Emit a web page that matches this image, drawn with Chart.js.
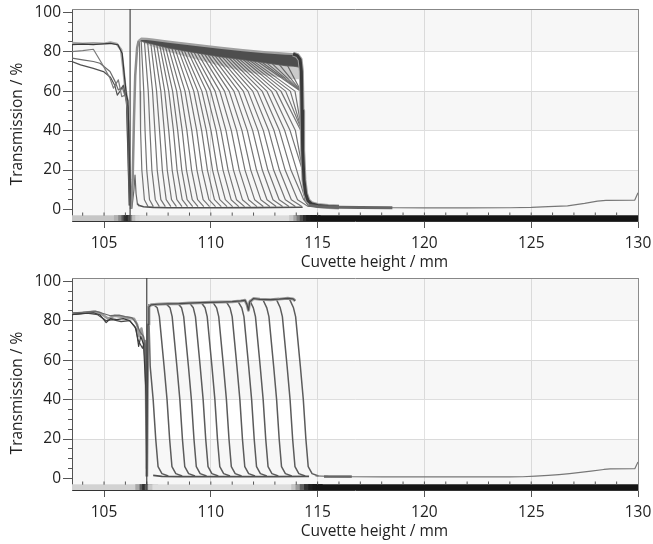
<!DOCTYPE html>
<html><head><meta charset="utf-8">
<script src="https://cdn.jsdelivr.net/npm/chart.js@4.4.1/dist/chart.umd.min.js"></script>
<style>
html,body{margin:0;padding:0;background:#fff;width:653px;height:544px;overflow:hidden}
canvas{position:absolute;left:0}
#c1{top:0}
#c2{top:269px}
</style></head><body>
<canvas id="c1" width="653" height="272"></canvas>
<canvas id="c2" width="653" height="272"></canvas>
<script>
// ---------- axes ----------
const xMin = 103.5, xMax = 130, yMin = -5.8, yMax = 101.6;
const xTickValues = [105, 110, 115, 120, 125, 130];
const xMinorTicks = [104,105,106,107,108,109,110,111,112,113,114,115,116,117,118,119,120,121,122,123,124,125,126,127,128,129];
const yTickValues = [0,5,10,15,20,25,30,35,40,45,50,55,60,65,70,75,80,85,90,95,100];
const bandRanges = [[80, 101.6], [40, 60], [-2.8, 20]];
const xTitle = 'Cuvette height / mm';
const yTitle = 'Transmission / %';

// ---------- top panel ----------
const topMeniscusX = 106.22;
const topLeft1 = [[103.5,84.3],[104,84],[104.5,84.2],[105,84],[105.3,84.6],[105.6,83.9],[105.8,81],[105.9,72],[106.0,61],[106.08,56],[106.15,30],[106.22,2]];
const topLeft2 = [[103.5,83.6],[104,83.8],[104.5,83.6],[105,84],[105.3,84.2],[105.65,83.5],[105.85,79],[105.95,68],[106.05,58],[106.12,55],[106.2,20],[106.25,1]];
const topLeft3 = [[103.5,80],[104,80.5],[104.5,81.2],[104.9,74],[105.28,66.5],[105.44,61.5],[105.67,65.7],[105.83,57.2],[106.0,58],[106.15,45],[106.22,3]];
const topLeft4 = [[103.5,76.7],[104,75.8],[104.5,75],[104.81,74.1],[105.28,69.9],[105.52,64.8],[105.67,60.6],[105.85,62],[106.0,57],[106.12,52],[106.2,5]];
const topLeft5 = [[103.5,75],[103.9,73.3],[104.5,71.5],[104.97,69.9],[105.3,67],[105.5,63],[105.62,58],[105.75,60],[105.9,63],[106.05,55],[106.18,2]];
const topRise = [[106.26,0.3],[106.34,15],[106.4,45],[106.46,68],[106.55,82],[106.62,85.5]];
const topSpike = [[106.3,0.5],[106.4,10],[106.45,17.5],[106.5,8],[106.56,3],[106.65,1.8]];
const bandX     = [106.62,106.75,107.0,107.3,108,109,110.4,111.5,112.5,113.5,113.85,114.05,114.2];
const bandTopY  = [85.5,86.6,86.5,86.1,85.1,83.8,82.0,80.8,79.8,79.0,78.8,78.0,76.0];
const bandLowY  = [85.5,85.5,84.6,83.8,82.0,80.0,77.5,76.0,74.5,73.0,72.7,72.5,72.0];
const speckLowY = [85.5,85.0,83.6,82.5,80.0,77.0,73.0,70.0,68.0,66.5,66.0,66.0,66.0];
const fanLevels = [60, 40, 20, 5, 1.5];
const fanWallX  = [114.22, 114.26, 114.3, 114.42, 114.62];
const fanTopX = [106.66,106.74,106.89,107.04,107.19,107.33,107.47,107.61,107.74,107.88,108.02,108.18,108.33,108.48,108.62,108.76,108.92,109.06,109.22,109.38,109.55,109.71,109.87,110.04,110.20,110.36,110.53,110.69,110.85,111.02,111.18,111.34,111.51,111.67,111.83,112.00,112.19,112.38,112.61,112.87,113.20,113.59];
const fanTopY = [85.0,85.5,85.1,84.6,84.1,83.7,83.4,83.0,82.7,82.3,82.0,81.6,81.3,81.0,80.8,80.5,80.2,79.9,79.6,79.3,79.0,78.7,78.4,78.1,77.9,77.6,77.3,77.1,76.9,76.6,76.4,76.2,76.0,75.7,75.5,75.2,75.0,74.7,74.3,73.9,73.5,73.0];
const fanX60 = [106.69,106.86,107.07,107.27,107.46,107.66,107.84,108.03,108.21,108.40,108.59,108.79,108.99,109.20,109.39,109.58,109.79,109.99,110.20,110.42,110.64,110.86,111.08,111.30,111.52,111.74,111.96,112.18,112.40,112.62,112.84,113.06,113.28,113.50,113.72,113.94,114.19,114.45,114.75,115.1,115.55,116.0];
const fanX40 = [106.71,106.92,107.15,107.38,107.60,107.82,108.03,108.25,108.45,108.66,108.88,109.11,109.34,109.57,109.79,110.01,110.25,110.47,110.71,110.96,111.21,111.46,111.71,111.96,112.21,112.46,112.71,112.96,113.21,113.46,113.71,113.96,114.21,114.46,114.71,114.96,115.25,115.55,115.9,116.3,116.8,117.4];
const fanX20 = [106.77,107.00,107.24,107.49,107.73,107.96,108.19,108.42,108.64,108.86,109.10,109.35,109.59,109.84,110.08,110.31,110.57,110.81,111.06,111.33,111.60,111.87,112.14,112.41,112.67,112.94,113.21,113.48,113.75,114.02,114.29,114.57,114.8,115.1,115.4,115.6,116,116.3,116.6,117,117.5,118.2];
const fanX5  = [106.89,107.13,107.40,107.66,107.91,108.16,108.41,108.66,108.89,109.13,109.38,109.64,109.91,110.17,110.42,110.68,110.95,111.20,111.48,111.77,112.05,112.34,112.63,112.91,113.20,113.49,113.77,114.06,114.35,114.67,114.94,115.2,115.5,115.8,116.1,116.4,116.7,117,117.4,117.8,118.3,119];
const fanX1  = [107.06,107.31,107.59,107.87,108.13,108.39,108.65,108.91,109.15,109.40,109.67,109.94,110.22,110.49,110.76,111.02,111.31,111.58,111.86,112.16,112.46,112.76,113.06,113.36,113.66,113.96,114.26,114.56,114.85,115.2,115.46,115.8,116.1,116.4,116.7,117,117.3,117.7,118.1,118.5,119,119.7];
const topFloor = [[106.55,3],[106.65,2],[106.85,1.4],[107.3,1.1],[108,0.9],[110,0.9],[112,1.0],[114.3,1.2]];
const topWall = [[113.85,78.8],[114.05,78.0],[114.18,76],[114.24,70],[114.27,50],[114.3,30],[114.36,15],[114.44,8],[114.55,4.5],[114.7,3],[115,2.1],[115.5,1.5],[116,1.3]];
const topSmear = [[114.6,2.2],[115,1.6],[116,1.2],[117,1.0],[118.5,0.9]];
const topTail = [[116,1.2],[117,1.0],[118.5,0.9],[120,0.8],[122,0.8],[124,0.9],[125,1.1],[125.8,1.5],[126.7,1.9],[127.5,3.1],[128.1,4.3],[128.5,4.6],[129.85,4.8],[130,8.5]];
const topStripX     = [103.5,105.6,105.8,105.95,106.05,106.15,106.25,106.35,106.45,106.6,106.8,113.8,114.0,114.15,114.3,114.45,114.6,114.8,115.0,130];
const topStripShade = ['#c6c6c6','#b0b0b0','#8a8a8a','#5a5a5a','#333333','#2a2a2a','#4a4a4a','#8a8a8a','#c0c0c0','#d6d6d6','#dcdcdc','#c8c8c8','#a4a4a4','#7a7a7a','#4c4c4c','#2c2c2c','#1c1c1c','#151515','#141414'];

// ---------- bottom panel ----------
const botMeniscusX = 107.0;
const botLeft1 = [[103.5,83.5],[104,84],[104.5,84.5],[104.8,84],[105.0,82.5],[105.2,81],[105.5,82.5],[105.8,82],[106.1,81.5],[106.4,81],[106.55,78],[106.65,72],[106.75,76],[106.85,70],[106.95,60],[107.0,5]];
const botLeft2 = [[103.5,83],[104,83.5],[104.5,84],[104.8,83],[105.1,79],[105.3,81],[105.6,80.5],[105.9,81],[106.2,80],[106.5,76],[106.62,67],[106.72,72],[106.85,68],[106.97,42],[107.0,2]];
const botLeft3 = [[103.5,84],[104,84.2],[104.6,84.8],[105,83.5],[105.3,82.5],[105.7,82.8],[106,82],[106.3,81.5],[106.5,79],[106.7,74],[106.85,72],[106.95,66],[107.0,10]];
const botLeft4 = [[103.5,83.2],[104.2,83.8],[104.7,83],[105.1,80],[105.4,80.5],[105.8,79.5],[106.2,80],[106.45,77],[106.6,70],[106.8,66],[106.92,70],[107.0,3]];
const botPlateau = [[107.0,1],[107.03,45],[107.06,78],[107.1,87],[107.2,88],[107.5,88.3],[108,88.5],[108.5,88.6],[109,88.9],[109.5,89.1],[110,89.3],[110.5,89.4],[111,89.6],[111.4,90],[111.6,90.3],[111.7,88],[111.76,85.3],[111.82,89.5],[112,91.2],[112.3,90.8],[112.8,90.6],[113.2,90.9],[113.6,91.3],[113.85,91],[113.95,90]];
const botRiseX = 107.1;
const botFrontX = [107.16,107.81,108.41,108.95,109.5,110.05,110.59,111.22,111.77,112.31,112.94,113.57,114.19];
const botTopY   = [88.0,88.2,88.5,88.8,89.0,89.2,89.4,89.6,89.8,90.5,90.6,90.8,90.8];
const botShapeDX = [-0.5,-0.32,-0.22,0,0.14,0.26,0.37,0.55,0.85];
const botShapeY  = [null,86.5,82,57,40,20,6,2.5,1.3];
const botFloor = [[107.3,1.6],[107.7,1.1],[108.5,1.0],[111,1.0],[113,1.0],[114.6,1.1]];
const botSmear = [[115.3,1.0],[116.6,1.0]];
const botTail = [[114.9,1.4],[115.5,1.1],[116.5,0.9],[118,0.8],[120,0.8],[122,0.8],[124,0.8],[124.6,0.9],[125.2,1.2],[125.8,1.6],[126.3,2.0],[126.8,2.5],[127.3,3.1],[127.8,3.8],[128.4,4.6],[128.7,4.9],[129.85,5.0],[130,8.4]];
const botStripX     = [103.5,106.6,106.8,106.92,107.0,107.08,107.2,107.4,113.9,114.1,114.3,114.5,114.7,114.9,115.1,130];
const botStripShade = ['#d2d2d2','#a8a8a8','#5c5c5c','#2e2e2e','#3c3c3c','#8c8c8c','#c8c8c8','#dedede','#c4c4c4','#9a9a9a','#5e5e5e','#303030','#1c1c1c','#151515','#141414'];

// ---------- helpers ----------
const FONT = {family: "'Open Sans', sans-serif", size: 15.5};
const TXT = '#222222';
const P = pairs => pairs.map(p => ({x: p[0], y: p[1]}));
function L(data, color, width, order, extra) {
  return Object.assign({data, borderColor: color, borderWidth: width, pointRadius: 0, fill: false, order, tension: 0}, extra || {});
}
function fanCurve(i) {
  const pts = [{x: fanTopX[i], y: fanTopY[i]}];
  const xs = [fanX60[i], fanX40[i], fanX20[i], fanX5[i], fanX1[i]];
  xs.forEach((x, k) => pts.push({x: Math.min(x, fanWallX[k]), y: fanLevels[k]}));
  return pts;
}
function botCurve(i) {
  return botShapeDX.map((dx, k) => ({x: Math.max(botFrontX[i] + dx, botRiseX), y: k === 0 ? botTopY[i] : botShapeY[k]}));
}
function common(stripX, stripShade, meniscusX) {
  const ds = [];
  bandRanges.forEach(r => ds.push(L([{x: xMin, y: r[1]}, {x: xMax, y: r[1]}], 'rgba(0,0,0,0)', 0, 100, {fill: {value: r[0]}, backgroundColor: 'rgba(0,0,0,0.033)'})));
  ds.push(L(stripX.map(x => ({x, y: -4.3})), '#cccccc', 5.8, 8, {clip: 0, borderCapStyle: 'square', segment: {borderColor: c => stripShade[c.p0DataIndex]}}));
  ds.push({data: xMinorTicks.map(x => ({x, y: -2.3})), showLine: false, pointStyle: 'line', pointRotation: 90, pointRadius: 1.6, pointBorderColor: '#555', pointBorderWidth: 1, order: 5});
  ds.push(L([{x: meniscusX, y: yMin}, {x: meniscusX, y: yMax}], '#454545', 1.2, 0));
  return ds;
}
function options() {
  return {
    responsive: false, animation: false, events: [],
    layout: {padding: {top: 9, right: 15, left: 0, bottom: 0}},
    plugins: {legend: {display: false}, tooltip: {enabled: false}},
    elements: {point: {radius: 0}, line: {tension: 0, borderJoinStyle: 'round'}},
    scales: {
      x: {
        type: 'linear', min: xMin, max: xMax, position: 'bottom',
        afterBuildTicks: s => { s.ticks = xTickValues.map(v => ({value: v})); },
        ticks: {font: FONT, color: TXT, padding: 6, maxRotation: 0, autoSkip: false, callback: v => String(v)},
        grid: {color: c => (c.tick && c.tick.value < 130) ? '#e2e2e2' : 'rgba(0,0,0,0)', tickLength: 7, tickColor: '#555'},
        border: {color: '#333'},
        title: {display: true, text: '\u2003\u2003\u2002' + xTitle, font: FONT, color: TXT, padding: {top: 0, bottom: 0}},
        afterFit: s => { s.height = 51; s.paddingLeft = 0; s.paddingRight = 0; }
      },
      y: {
        type: 'linear', min: yMin, max: yMax, position: 'left', weight: 1,
        afterBuildTicks: s => { s.ticks = yTickValues.map(v => ({value: v})); },
        ticks: {font: FONT, color: TXT, padding: 2, autoSkip: false, callback: v => (v % 20 === 0 ? String(v) : '')},
        grid: {
          color: c => (c.tick && c.tick.value % 20 === 0 && c.tick.value > 0 && c.tick.value < 100) ? '#e2e2e2' : 'rgba(0,0,0,0)',
          tickLength: 9, tickColor: '#555',
          tickBorderDash: c => (c.tick && c.tick.value % 20 === 0) ? [] : [0, 5, 4, 20]
        },
        border: {color: '#555'},
        title: {display: true, text: yTitle + '\u2003\u2009', font: FONT, color: TXT, padding: {top: 8, bottom: 0}},
        afterFit: s => { s.width = 72; s.paddingTop = 0; s.paddingBottom = 0; }
      },
      xTop: {
        type: 'linear', min: xMin, max: xMax, position: 'top',
        ticks: {display: false}, grid: {color: 'rgba(0,0,0,0)', drawTicks: false},
        border: {color: '#8c8c8c'},
        afterFit: s => { s.height = 0; s.paddingLeft = 0; s.paddingRight = 0; }
      },
      yRight: {
        type: 'linear', min: yMin, max: yMax, position: 'right',
        ticks: {display: false}, grid: {color: 'rgba(0,0,0,0)', drawTicks: false},
        border: {color: '#8c8c8c'},
        afterFit: s => { s.width = 0; s.paddingTop = 0; s.paddingBottom = 0; }
      }
    }
  };
}

// ---------- top chart ----------
const topDs = common(topStripX, topStripShade, topMeniscusX);
topDs.push(L(P(topLeft1), '#a6a6a6', 2.6, 42));
topDs.push(L(P(topLeft2), '#383838', 1.2, 41));
topDs.push(L(P(topLeft3), '#7a7a7a', 1.2, 41));
topDs.push(L(P(topLeft4), '#6a6a6a', 1.2, 41));
topDs.push(L(P(topLeft5), '#505050', 1.2, 41));
fanTopX.forEach((_, i) => topDs.push(L(fanCurve(i), '#747474', 1.2, 50)));
topDs.push(L(P(topFloor), '#505050', 1.6, 45));
topDs.push(L(P(topRise), '#8c8c8c', 2.5, 35));
topDs.push(L(P(topSpike), '#666', 1.2, 35));
topDs.push(L(bandX.map((x, i) => ({x, y: bandLowY[i]})), 'rgba(0,0,0,0)', 0, 33, {fill: '+1', backgroundColor: 'rgba(70,70,70,0.28)'}));
topDs.push(L(bandX.map((x, i) => ({x, y: speckLowY[i]})), 'rgba(0,0,0,0)', 0, 33));
topDs.push(L(bandX.map((x, i) => ({x, y: bandTopY[i]})), '#a0a0a0', 2.2, 30, {fill: '+1', backgroundColor: '#4e4e4e'}));
topDs.push(L(bandX.map((x, i) => ({x, y: bandLowY[i]})), '#6a6a6a', 1.5, 30));
topDs.push(L(P(topWall), '#a0a0a0', 5, 22));
topDs.push(L(P(topWall), '#3a3a3a', 3, 21));
topDs.push(L(P(topSmear), '#666', 3, 20));
topDs.push(L(P(topTail), '#777', 1.2, 20));
new Chart(document.getElementById('c1'), {type: 'line', data: {datasets: topDs}, options: options()});

// ---------- bottom chart ----------
const botDs = common(botStripX, botStripShade, botMeniscusX);
botDs.push(L(P(botLeft1), '#9a9a9a', 2.5, 42));
botDs.push(L(P(botLeft2), '#3a3a3a', 1.2, 41));
botDs.push(L(P(botLeft3), '#6a6a6a', 1.2, 41));
botDs.push(L(P(botLeft4), '#4a4a4a', 1.2, 41));
botDs.push(L(P(botPlateau), '#9a9a9a', 3, 31));
botDs.push(L(P(botPlateau), '#4a4a4a', 1.2, 30));
botFrontX.forEach((_, i) => botDs.push(L(botCurve(i), '#5c5c5c', 1.5, 50)));
botDs.push(L(P(botFloor), '#505050', 1.6, 45));
botDs.push(L(P(botSmear), '#666', 2.5, 20));
botDs.push(L(P(botTail), '#777', 1.2, 20));
new Chart(document.getElementById('c2'), {type: 'line', data: {datasets: botDs}, options: options()});
</script>
</body></html>
